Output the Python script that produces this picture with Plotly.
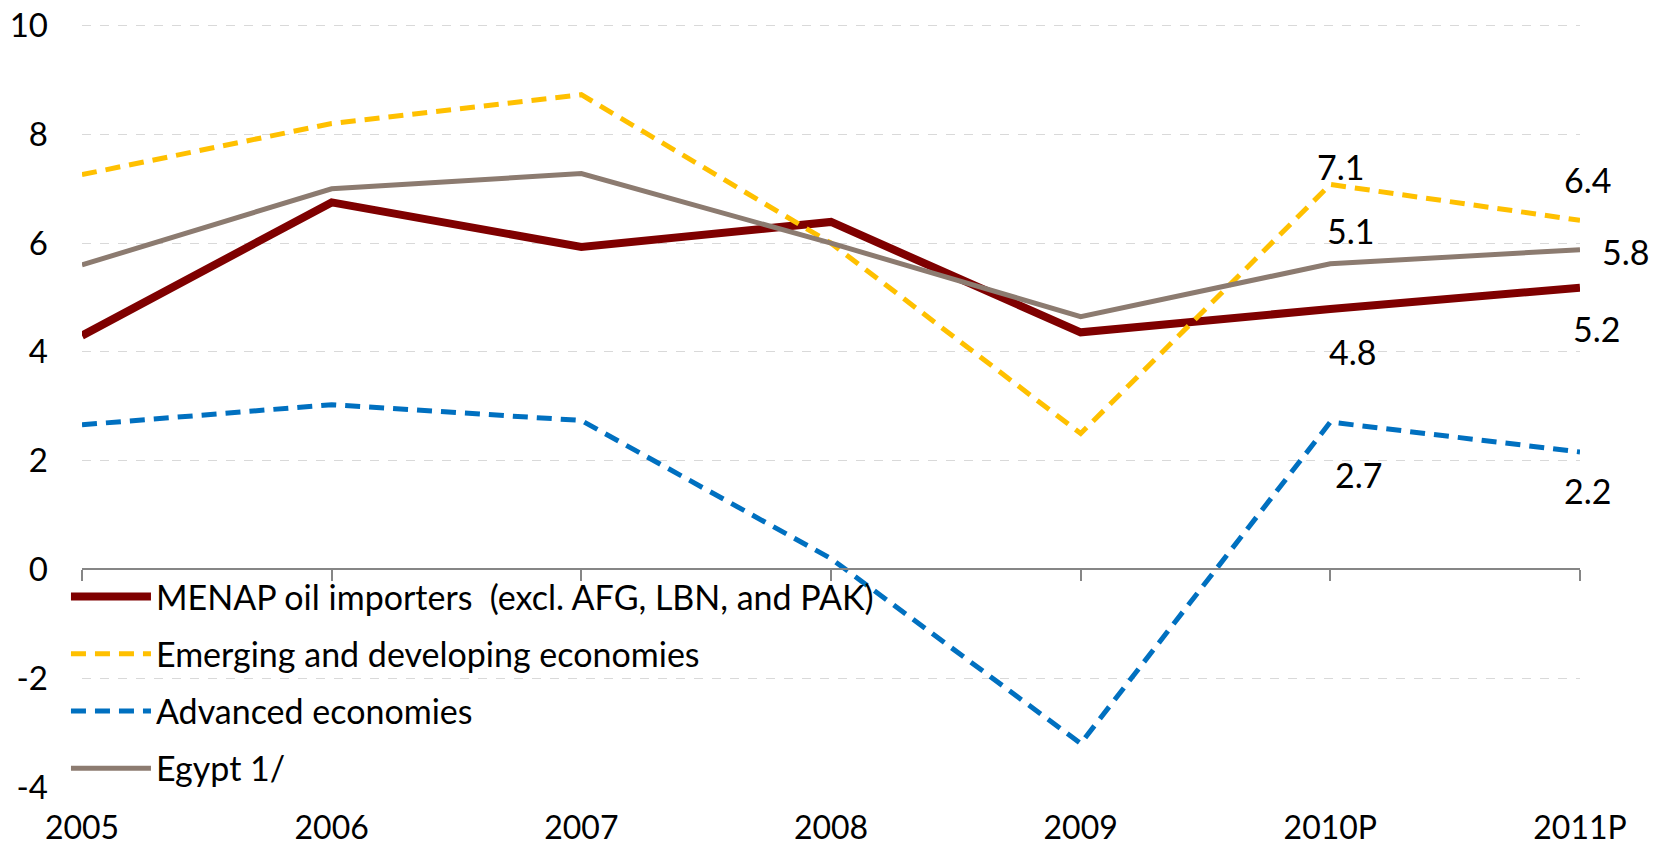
import plotly.graph_objects as go

years = ["2005", "2006", "2007", "2008", "2009", "2010P", "2011P"]

menap = [4.30, 6.75, 5.93, 6.39, 4.36, 4.79, 5.18]
emerging = [7.26, 8.20, 8.73, 6.00, 2.50, 7.08, 6.42]
advanced = [2.66, 3.03, 2.74, 0.20, -3.20, 2.71, 2.16]
egypt = [5.60, 7.00, 7.28, 6.00, 4.65, 5.62, 5.88]

# data labels shown on the last two points
menap_labels = [None, None, None, None, None, "4.8", "5.2"]
emerging_labels = [None, None, None, None, None, "7.1", "6.4"]
advanced_labels = [None, None, None, None, None, "2.7", "2.2"]
egypt_labels = [None, None, None, None, None, "5.1", "5.8"]

y_ticks = [-4, -2, 0, 2, 4, 6, 8, 10]
y_ticktext = ["-4", "-2", "0", "2", "4", "6", "8", "10"]

FONT = "Lato, 'Noto Sans', sans-serif"

fig = go.Figure()
fig.add_trace(go.Scatter(
    x=years, y=menap, name="MENAP oil importers \u00a0(excl. AFG, LBN, and PAK)",
    mode="lines", line=dict(color="#7F0000", width=8), legendgroup="a",
))
fig.add_trace(go.Scatter(
    x=years, y=emerging, name="Emerging and developing economies",
    mode="lines", line=dict(color="#FFC000", width=5, dash="15px,9px"), legendgroup="b",
))
fig.add_trace(go.Scatter(
    x=years, y=advanced, name="Advanced economies",
    mode="lines", line=dict(color="#0070C0", width=5, dash="15px,9px"), legendgroup="c",
))
fig.add_trace(go.Scatter(
    x=years, y=egypt, name="Egypt 1/", xaxis="x2",
    mode="lines", line=dict(color="#8C7B70", width=5), legendgroup="d",
))

# label offsets in pixels (x, y) per series, for the two labelled points
label_sets = [
    (emerging, emerging_labels, [(10, 18), (7, 41)]),
    (egypt, egypt_labels, [(20, 33), (45, -2)]),
    (menap, menap_labels, [(22, -43), (16, -41)]),
    (advanced, advanced_labels, [(28, -52), (7, -38)]),
]
for vals, labels, shifts in label_sets:
    k = 0
    for xi, yi, lab in zip(years, vals, labels):
        if lab is None:
            continue
        dx, dy = shifts[k]
        k += 1
        fig.add_annotation(
            x=xi, y=yi, text=lab, showarrow=False, xshift=dx, yshift=dy,
            font=dict(family=FONT, size=34, color="black"),
        )

fig.update_layout(
    width=1653, height=849,
    margin=dict(l=82, r=73, t=24, b=62, autoexpand=False),
    paper_bgcolor="white", plot_bgcolor="white",
    font=dict(family=FONT, size=33, color="black"),
    showlegend=True,
    legend=dict(
        x=-0.0107, y=0.287, xanchor="left", yanchor="top",
        bgcolor="rgba(0,0,0,0)", font=dict(size=34),
        tracegroupgap=10, itemwidth=80,
    ),
    xaxis=dict(
        type="category", categoryorder="array", categoryarray=years,
        range=[0, 6], showgrid=False, showline=False, ticks="",
        ticklabelstandoff=19, tickfont=dict(size=32),
    ),
    xaxis2=dict(
        type="category", categoryorder="array", categoryarray=years,
        range=[0, 6], overlaying="x", anchor="free", position=4 / 14,
        showgrid=False, showline=True, linecolor="#868686", linewidth=2,
        ticks="outside", ticklen=11, tickcolor="#868686", tickwidth=2,
        showticklabels=False,
    ),
    yaxis=dict(
        range=[-4, 10.03], tickvals=y_ticks, ticktext=y_ticktext,
        showgrid=True, gridcolor="#D9D9D9", griddash="dash", gridwidth=1,
        zeroline=False, showline=False, ticks="",
        ticklabelstandoff=33, tickfont=dict(size=33),
    ),
)

fig.write_html(
    "out.html",
    config={"displayModeBar": False},
    post_script="document.body.style.margin='0';",
)
